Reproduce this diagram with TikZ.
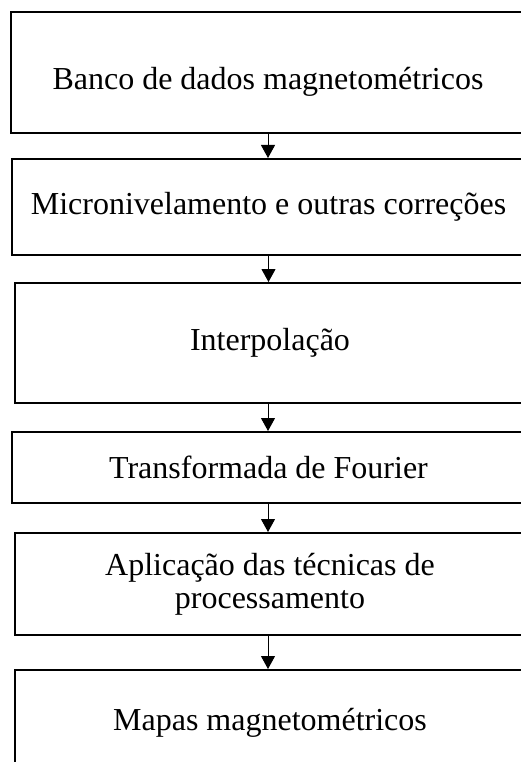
\documentclass[tikz,border=0pt]{standalone}
\usepackage{fontspec}
\setmainfont{Liberation Serif}
\usetikzlibrary{arrows.meta}

\begin{document}
\begin{tikzpicture}[x=1pt, y=-1pt, box/.style = {draw, line width=2pt, align=center, inner sep=0pt, font=\fontsize{32}{33}\selectfont}, arr/.style = {line width=1pt, -{Triangle[length=13pt,width=14pt]}}]
  \useasboundingbox (0,0) rectangle (521,762);
  \clip (0,0) rectangle (521,762);
  \node[box, minimum width=514pt, minimum height=121pt, text height=42pt, text depth=7pt] (1) at (268, 72.5) {Banco de dados magnetométricos};
  \node[box, minimum width=513pt, minimum height=96pt] (2) at (268.5, 207) {Micronivelamento e outras correções};
  \node[box, minimum width=510pt, minimum height=120pt] (3) at (270, 343) {Interpolação};
  \node[box, minimum width=513pt, minimum height=71pt] (4) at (268.5, 467.5) {Transformada de Fourier};
  \node[box, minimum width=510pt, minimum height=102pt] (5) at (270, 584) {Aplicação das técnicas de\\processamento};
  \node[box, minimum width=510pt, minimum height=105pt] (6) at (270, 722.5) {Mapas magnetométricos};
  \draw[arr] (1.south) -- (1.south |- 2.north);
  \draw[arr] (2.south) -- (2.south |- 3.north);
  \draw[arr] (1.south |- 3.south) -- (1.south |- 4.north);
  \draw[arr] (1.south |- 4.south) -- (1.south |- 5.north);
  \draw[arr] (1.south |- 5.south) -- (1.south |- 6.north);
\end{tikzpicture}
\end{document}
